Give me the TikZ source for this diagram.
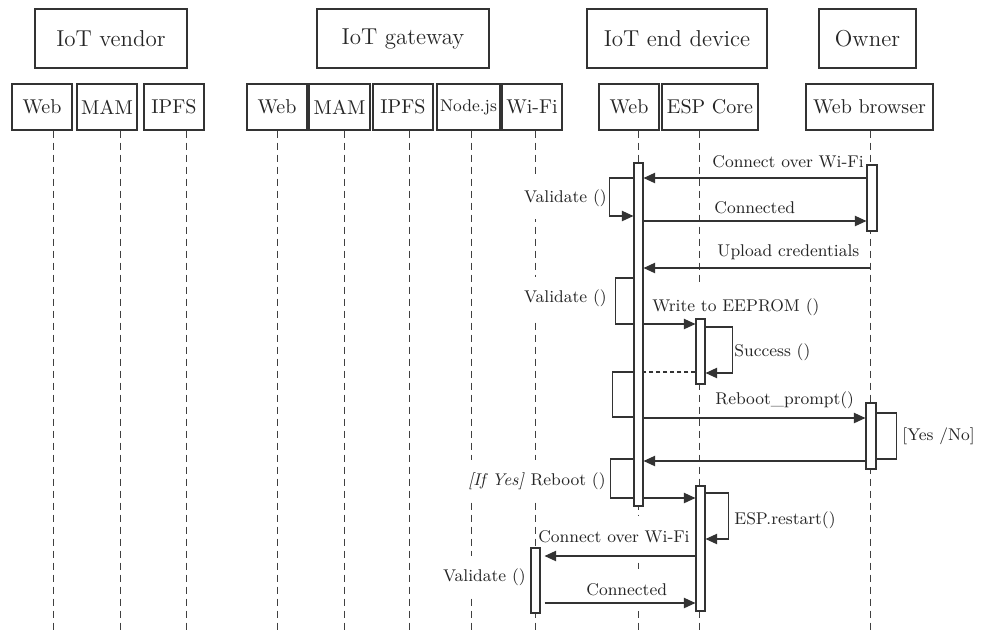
\documentclass[tikz,border=0pt]{standalone}
\usetikzlibrary{arrows.meta}
\begin{document}
\begin{tikzpicture}[x=0.5pt,y=-0.5pt,
  hdr/.style={draw=black!80, text=black!85, line width=0.6pt, inner sep=0pt,
    minimum height=29.5pt, font=\fontsize{11.5}{14}\selectfont},
  part/.style={draw=black!80, text=black!85, line width=0.6pt, inner sep=0pt,
    minimum height=23pt, minimum width=30pt, font=\fontsize{10}{12}\selectfont},
  life/.style={draw=black!75, line width=0.5pt, dash pattern=on 3.75pt off 2.25pt},
  act/.style={draw=black!80, fill=white, line width=0.55pt, inner sep=0pt},
  lbl/.style={fill=white, text=black!85, inner xsep=1pt, inner ysep=0pt,
    minimum height=21pt, font=\fontsize{8.5}{10}\selectfont},
  wire/.style={draw=black!80, line width=0.55pt},
  msg/.style={wire, -{Triangle[length=5.8pt,width=5.2pt]}},
  reply/.style={wire, dash pattern=on 2pt off 1.5pt}]

\useasboundingbox (0,0) rectangle (987,634);

% --- participants ---
\node[hdr, minimum width=76pt]   (vendor)  at (111,38.5)   {IoT vendor};
\node[hdr, minimum width=86pt]   (gateway) at (403,38.5)   {IoT gateway};
\node[hdr, minimum width=90pt]   (enddev)  at (677,38.5)   {IoT end device};
\node[hdr, minimum width=48.5pt] (owner)   at (867.5,38.5) {Owner};

\node[part] (vweb)  at (42,107)    {Web};
\node[part] (vmam)  at (107,107)   {MAM};
\node[part] (vipfs) at (174,107)   {IPFS};
\node[part] (gweb)  at (277,107)   {Web};
\node[part, minimum width=30.5pt] (gmam)  at (339.5,107) {MAM};
\node[part] (gipfs) at (403,107)   {IPFS};
\node[part, minimum width=31.5pt, font=\fontsize{8.5}{10}\selectfont] (gnode) at (468.5,107) {Node.js};
\node[part] (gwifi) at (532,107)   {Wi-Fi};
\node[part] (eweb)  at (629,107)   {Web};
\node[part, minimum width=48pt]   (eesp)  at (710,107)   {ESP Core};
\node[part, minimum width=63.5pt] (obrw)  at (869.5,107) {Web browser};

% --- lifelines ---
\foreach \b/\x in {vweb/53, vmam/120, vipfs/186, gweb/277, gmam/344, gipfs/409,
                   gnode/471, gwifi/535, eweb/638, eesp/699, obrw/870} {
  \coordinate (\b-end) at (\x,632);
  \draw[life] (\b.south -| \b-end) -- (\b-end);
}

% --- message labels ---
\node[lbl, anchor=west] (l1)  at (710,162) {Connect over Wi-Fi};
\node[lbl, anchor=east] (v1)  at (609,198) {Validate ()};
\node[lbl, anchor=west] (l2)  at (712,208) {Connected};
\node[lbl, anchor=west] (l3)  at (715,252) {Upload credentials};
\node[lbl, anchor=east] (v2)  at (609,298) {Validate ()};
\node[lbl, anchor=west] (l4)  at (650,307) {Write to EEPROM ()};
\node[lbl, anchor=west] (l5)  at (732,352) {Success ()};
\node[lbl, anchor=west] (l6)  at (713,400) {Reboot\_prompt()};
\node[lbl, anchor=west] (l7)  at (900,436) {[Yes /No]};
\node[lbl, anchor=east] (l8)  at (608,481) {\textit{[If Yes]} Reboot ()};
\node[lbl, anchor=west] (l9)  at (732,520) {ESP.restart()};
\node[lbl, anchor=east] (l10) at (692,537) {Connect over Wi-Fi};
\node[lbl, anchor=west] (l11) at (584,590) {Connected};
\node[lbl, anchor=east] (v3)  at (528,577) {Validate ()};

% --- activation bars ---
\node[act, minimum width=4.5pt, minimum height=171.5pt] (webA)  at (638.5,334.5) {};
\node[act, minimum width=5pt,   minimum height=33pt]    (ownA1) at (872,198)     {};
\node[act, minimum width=4.5pt, minimum height=32.5pt]  (espA1) at (700.5,351.5) {};
\node[act, minimum width=5pt,   minimum height=33pt]    (ownA2) at (871,436)     {};
\node[act, minimum width=4.5pt, minimum height=62.5pt]  (espA2) at (700.5,548.5) {};
\node[act, minimum width=4.5pt, minimum height=32.5pt]  (wifiA) at (535.5,580.5) {};

% --- message levels ---
\foreach \n/\y in {t1/178, t2/216, t3/221, t4/268, t5/278, t6/324, t7/327,
                   t8/373, t9/372, t10/417, t11/418, t12/413, t13/459, t14/461,
                   t15/498, t16/493, t17/539, t18/556, t19/603}
  \coordinate (\n) at (0,\y);

% --- messages ---
\draw[msg]  (ownA1.west |- t1) -- (webA.east |- t1);
\draw[msg]  (webA.west |- t1) -- ++(-24,0) |- (webA.west |- t2);
\draw[msg]  (webA.east |- t3) -- (ownA1.west |- t3);
\draw[msg]  (obrw-end |- t4) -- (webA.east |- t4);
\draw[wire] (webA.west |- t5) -- ++(-18,0) |- (webA.west |- t6);
\draw[msg]  (webA.east |- t6) -- (espA1.west |- t6);
\draw[msg]  (espA1.east |- t7) -- ++(27,0) |- (espA1.east |- t8);
\draw[reply] (espA1.west |- t9) -- (webA.east |- t9);
\draw[wire] (webA.west |- t9) -- ++(-21,0) |- (webA.west |- t10);
\draw[msg]  (webA.east |- t11) -- (ownA2.west |- t11);
\draw[wire] (ownA2.east |- t12) -- ++(20,0) |- (ownA2.east |- t13);
\draw[msg]  (ownA2.west |- t14) -- (webA.east |- t14);
\draw[wire] (webA.west |- t13) -- ++(-23,0) |- (webA.west |- t15);
\draw[msg]  (webA.east |- t15) -- (espA2.west |- t15);
\draw[msg]  (espA2.east |- t16) -- ++(23,0) |- (espA2.east |- t17);
\draw[msg, shorten >=2pt] (espA2.west |- t18) -- (wifiA.east |- t18);
\draw[msg, shorten <=2pt] (wifiA.east |- t19) -- (espA2.west |- t19);

\end{tikzpicture}
\end{document}
